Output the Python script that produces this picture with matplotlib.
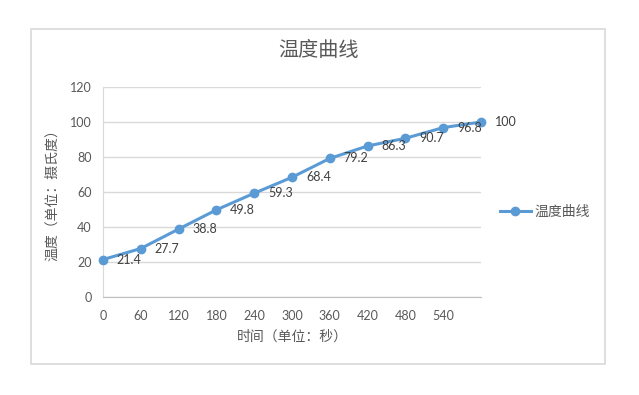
import matplotlib.pyplot as plt
from matplotlib.patches import Rectangle
import numpy as np

plt.rcParams['font.family'] = ['Noto Sans CJK SC', 'DejaVu Sans']

# data
time_labels = ['0', '60', '120', '180', '240', '300', '360', '420', '480', '540', '']
temps = [21.4, 27.7, 38.8, 49.8, 59.3, 68.4, 79.2, 86.3, 90.7, 96.8, 100]
y_ticks = [0, 20, 40, 60, 80, 100, 120]

blue = '#5B9BD5'
grey_txt = '#595959'

fig = plt.figure(figsize=(6.39, 3.95), dpi=100)
ax = fig.add_axes([103/639, 1-297/395, (481-103)/639, (297-87)/395])

x = np.arange(len(temps))
ax.plot(x, temps, '-o', color=blue, lw=2.2, ms=6, label='温度曲线', zorder=3, clip_on=False)

for xi, t in zip(x, temps):
    ax.annotate(f'{t:g}', (xi, t), xytext=(10, 0), textcoords='offset points',
                ha='left', va='center', fontsize=9, color='#404040',
                family=['Lato', 'DejaVu Sans'])

ax.set_xlim(0, 10)
ax.set_ylim(0, 120)
ax.set_xticks(x)
ax.set_xticklabels(time_labels, family=['Lato', 'DejaVu Sans'])
ax.set_yticks(y_ticks)
ax.set_yticklabels([str(v) for v in y_ticks], family=['Lato', 'DejaVu Sans'])
ax.tick_params(length=0, labelsize=9, labelcolor=grey_txt)
ax.tick_params(axis='x', pad=9)
ax.tick_params(axis='y', pad=8)

ax.grid(axis='y', color='#D9D9D9', lw=1)
ax.set_axisbelow(True)
for s in ['top', 'right']:
    ax.spines[s].set_visible(False)
ax.spines['left'].set_color('#D9D9D9')
ax.spines['bottom'].set_color('#BFBFBF')

ax.set_xlabel('时间（单位：秒）', fontsize=10, color=grey_txt, labelpad=6)
ax.set_ylabel('温度（单位：摄氏度）', fontsize=10, color=grey_txt, labelpad=8)

fig.text(318/639, 1-51/395, '温度曲线', ha='center', va='center', fontsize=14.5, color=grey_txt)

fig.legend(loc='center left', bbox_to_anchor=(500/639, 1-212/395), frameon=False,
           fontsize=10, labelcolor=grey_txt, handlelength=2.2, handletextpad=0.3,
           borderpad=0, borderaxespad=0)

fig.patches.append(Rectangle((31/639, 1-364/395), (605-31)/639, (364-29)/395,
                             transform=fig.transFigure, fill=False, ec='#D9D9D9', lw=1.2))

fig.savefig('out.png', dpi=100)
